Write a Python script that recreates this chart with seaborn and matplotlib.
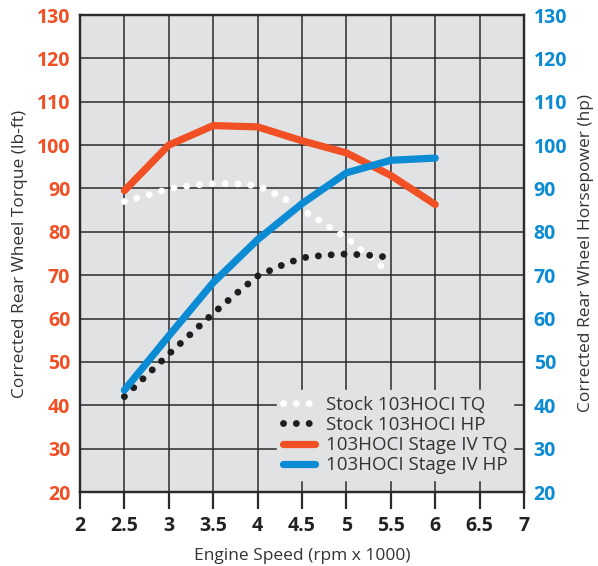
import matplotlib
matplotlib.use("Agg")
import matplotlib.pyplot as plt
import seaborn as sns
import pandas as pd
from matplotlib.lines import Line2D

# ---- data ----
rpm_stock = [2.5, 2.75, 3.0, 3.25, 3.5, 3.75, 4.0, 4.25, 4.5, 4.75, 5.0, 5.25, 5.5]
stock_tq = [87.0, 88.4, 89.9, 90.7, 91.1, 91.1, 90.6, 88.3, 85.1, 81.9, 78.6, 74.5, 70.4]
rpm_stock_hp = [2.5, 2.75, 3.0, 3.25, 3.5, 3.75, 4.0, 4.25, 4.5, 4.75, 5.0, 5.25, 5.45]
stock_hp = [42.0, 46.9, 51.8, 56.5, 61.2, 65.6, 69.8, 72.1, 74.0, 74.6, 74.9, 74.6, 74.2]
rpm_stage = [2.5, 3.0, 3.5, 4.0, 4.5, 5.0, 5.5, 6.0]
stage_tq = [89.5, 100.0, 104.5, 104.2, 101.0, 98.2, 93.0, 86.3]
stage_hp = [43.5, 56.0, 68.3, 78.2, 86.5, 93.6, 96.5, 97.0]
x_ticks = [2, 2.5, 3, 3.5, 4, 4.5, 5, 5.5, 6, 6.5, 7]
y_ticks = list(range(20, 131, 10))
labels = ["Stock 103HOCI TQ", "Stock 103HOCI HP", "103HOCI Stage IV TQ", "103HOCI Stage IV HP"]

ORANGE = "#f05023"
BLUE = "#0a8bd3"
BG = "#e1e2e4"
GRID = "#2b2b2b"
TXT = "#333333"

sns.set_theme(style="white")
plt.rcParams["font.family"] = ["Open Sans", "DejaVu Sans"]

fig = plt.figure(figsize=(5.98, 5.66), dpi=100)
ax = fig.add_axes([80/598, 1-492/566, 444/598, 477/566])
ax2 = ax.twinx()

ax.set_facecolor(BG)
ax2.patch.set_visible(False)

DOT_LW = 5.0
dot_style = (0, (0.001, 1.85))
df_tq = pd.DataFrame({"rpm": rpm_stock, "v": stock_tq})
df_hp = pd.DataFrame({"rpm": rpm_stock_hp, "v": stock_hp})
df_stq = pd.DataFrame({"rpm": rpm_stage, "v": stage_tq})
df_shp = pd.DataFrame({"rpm": rpm_stage, "v": stage_hp})

sns.lineplot(data=df_tq, x="rpm", y="v", ax=ax, color="white", lw=DOT_LW,
             linestyle=dot_style, dash_capstyle="round", zorder=3)
sns.lineplot(data=df_stq, x="rpm", y="v", ax=ax, color=ORANGE, lw=5.2,
             solid_capstyle="round", zorder=4)
sns.lineplot(data=df_hp, x="rpm", y="v", ax=ax2, color="#1e1e1e", lw=DOT_LW,
             linestyle=dot_style, dash_capstyle="round", zorder=3)
sns.lineplot(data=df_shp, x="rpm", y="v", ax=ax2, color=BLUE, lw=5.2,
             solid_capstyle="round", zorder=4)

for a in (ax, ax2):
    a.set_xlim(2, 7)
    a.set_ylim(20, 130)
    a.set_xlabel("")
    a.set_ylabel("")
    for s in a.spines.values():
        s.set_color(GRID)
        s.set_linewidth(1.6)

ax.set_xticks(x_ticks)
ax.set_xticklabels([f"{t:g}" for t in x_ticks], fontsize=14, fontweight="bold", color="#222222")
ax.set_yticks(y_ticks)
ax.set_yticklabels([str(t) for t in y_ticks], fontsize=14, fontweight="bold", color=ORANGE)
ax2.set_yticks(y_ticks)
ax2.set_yticklabels([str(t) for t in y_ticks], fontsize=14, fontweight="bold", color=BLUE)

ax.tick_params(axis="x", direction="out", length=12, width=1.6, color=GRID, pad=5, bottom=True)
ax.tick_params(axis="y", length=0, pad=7)
ax2.tick_params(axis="y", length=0, pad=7)

ax.grid(True, color=GRID, linewidth=1.1)
ax.set_axisbelow(True)

ax.set_xlabel("Engine Speed (rpm x 1000)", fontsize=12.5, color=TXT, labelpad=9)
ax.set_ylabel("Corrected Rear Wheel Torque (lb-ft)", fontsize=12.5, color=TXT, labelpad=6)
ax2.set_ylabel("Corrected Rear Wheel Horsepower (hp)", fontsize=12.5, color=TXT,
               rotation=90, labelpad=8)

handles = [
    Line2D([], [], color="white", lw=DOT_LW, linestyle=dot_style, dash_capstyle="round"),
    Line2D([], [], color="#1e1e1e", lw=DOT_LW, linestyle=dot_style, dash_capstyle="round"),
    Line2D([], [], color=ORANGE, lw=5.2, solid_capstyle="round"),
    Line2D([], [], color=BLUE, lw=5.2, solid_capstyle="round"),
]
leg = ax2.legend(handles, labels, loc="lower right", bbox_to_anchor=(0.975, 0.025),
                 borderaxespad=0, frameon=True, facecolor=BG, edgecolor=BG, framealpha=1,
                 fontsize=13.5, handlelength=1.75, handletextpad=0.55, labelspacing=0.12,
                 borderpad=0.3, fancybox=False)
for t in leg.get_texts():
    t.set_color(TXT)

fig.savefig("out.png", dpi=100, facecolor="white")
